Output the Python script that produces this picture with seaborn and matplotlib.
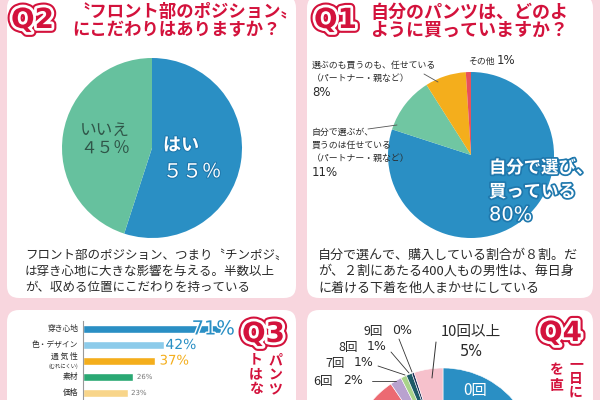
import matplotlib
matplotlib.use('Agg')
import matplotlib.pyplot as plt
import matplotlib.patheffects as pe
from matplotlib.patches import FancyBboxPatch
import seaborn as sns
import pandas as pd

# ---------------- data ----------------
q2_labels = ['はい', 'いいえ']
q2_values = [55, 45]

q1_labels = ['自分で選び、買っている', '自分で選ぶが、買うのは任せている',
             '選ぶのも買うのも、任せている', 'その他']
q1_values = [80, 11, 8, 1]

q3_categories = ['穿き心地', '色・デザイン', '通気性', '素材', '価格']
q3_values = [71, 42, 37, 26, 23]

q4_labels = ['0回', '1回', '2回', '3回', '4回', '5回', '6回', '7回', '8回', '9回', '10回以上']
q4_values = [31, 24, 16, 9, 5, 5, 2, 1, 1, 0.4, 5]

# ---------------- style ----------------
PINK = '#f8d6de'
RED = '#d3123c'
BLUE = '#2a8fc4'
GREEN = '#66c19e'
ORANGE = '#f4ae1c'
CORAL = '#e8505b'
TXT = '#2a2a2a'

q2_colors = [BLUE, GREEN]
q1_colors = [BLUE, '#70c6a2', ORANGE, CORAL]
q3_colors = [BLUE, '#8ccbea', ORANGE, '#2aa873', '#f8d58a']
q4_colors = [BLUE, '#6cc4a0', '#f4ae1c', '#f8d58a', '#8ccbea', '#ec6a72',
             '#b9a2cf', '#a9d38a', '#1d5a66', '#1c2f57', '#f6c1cc']

sns.set_theme(style='white')
plt.rcParams['font.family'] = ['Noto Sans CJK JP', 'DejaVu Sans']

W, H = 600, 400
fig = plt.figure(figsize=(6, 4), dpi=100)
fig.patch.set_facecolor(PINK)

bg = fig.add_axes([0, 0, 1, 1], zorder=0)
bg.set_xlim(0, W); bg.set_ylim(H, 0); bg.axis('off')


def panel(x0, y0, x1, y1):
    bg.add_patch(FancyBboxPatch((x0, y0), x1 - x0, y1 - y0,
                                boxstyle='round,pad=0,rounding_size=12',
                                fc='white', ec='none'))


panel(7, -4, 296, 298)
panel(307, -4, 593, 298)
panel(7, 310, 296, 420)
panel(307, 310, 593, 420)


def pie_axes(cx, cy, r):
    ax = fig.add_axes([(cx - r) / W, (H - cy - r) / H, 2 * r / W, 2 * r / H], zorder=2)
    return ax


def finish_pie(ax):
    ax.set_xlim(-1, 1); ax.set_ylim(-1, 1); ax.axis('off')


# Q2 pie
a2 = pie_axes(152, 148, 90)
a2.pie(q2_values, colors=q2_colors, startangle=90, counterclock=False,
       wedgeprops=dict(linewidth=0))
finish_pie(a2)

# Q1 pie
a1 = pie_axes(471, 155, 83)
a1.pie(q1_values, colors=q1_colors, startangle=90, counterclock=False,
       wedgeprops=dict(linewidth=0))
finish_pie(a1)

# Q4 pie
a4 = pie_axes(443, 461, 93)
a4.pie(q4_values, colors=q4_colors, startangle=90, counterclock=False,
       wedgeprops=dict(linewidth=0.4, edgecolor='white'))
finish_pie(a4)

# Q3 bars
df3 = pd.DataFrame({'item': q3_categories, 'pct': q3_values})
axb = fig.add_axes([83 / W, 0, 194 / W, 79 / H], zorder=2)
sns.barplot(data=df3, x='pct', y='item', hue='item', palette=q3_colors,
            legend=False, width=0.56, saturation=1, ax=axb)
axb.set_xlim(0, 100)
axb.set_ylim(4.4375, -0.5)
axb.set_facecolor('none')
for s in ['top', 'right', 'bottom']:
    axb.spines[s].set_visible(False)
axb.spines['left'].set_color('#9a9a9a')
axb.spines['left'].set_linewidth(0.8)
axb.set_xticks([]); axb.set_yticks([])
axb.set_xlabel(''); axb.set_ylabel('')

# overlay for texts
ov = fig.add_axes([0, 0, 1, 1], zorder=5)
ov.set_xlim(0, W); ov.set_ylim(H, 0); ov.axis('off')
ov.patch.set_alpha(0)


def T(x, y, s, size=9, color=TXT, ha='left', va='center', **kw):
    return ov.text(x, y, s, fontsize=size, color=color, ha=ha, va=va, **kw)


def badge(x, y, s, size=20):
    T(x, y, s, size=size, color=RED, fontweight='bold', family='DejaVu Sans',
      path_effects=[pe.Stroke(linewidth=7, foreground=RED),
                    pe.Stroke(linewidth=4, foreground='white'), pe.Normal()])


# ---- Q2 panel ----
badge(11, 20, 'Q2')
T(72, 12, '〝フロント部のポジション〟', size=12.5, color=RED, fontweight='bold')
T(72, 30, 'にこだわりはありますか？', size=12.5, color=RED, fontweight='bold')
T(80, 130, 'いいえ', size=12, color='#2f5548')
T(80, 149, '４５％', size=12, color='#2f5548')
wp = [pe.Stroke(linewidth=1.5, foreground='#1f78ad'), pe.Normal()]
T(163, 145, 'はい', size=13, color='white', fontweight='bold', path_effects=wp)
T(163, 172, '５５％', size=14, color='white', path_effects=wp)
for i, line in enumerate(['フロント部のポジション、つまり〝チンポジ〟',
                          'は穿き心地に大きな影響を与える。半数以上',
                          'が、収める位置にこだわりを持っている']):
    T(25, 255 + 16.5 * i, line, size=9)

# ---- Q1 panel ----
badge(314, 20, 'Q1')
T(370, 12, '自分のパンツは、どのよ', size=13, color=RED, fontweight='bold')
T(370, 30, 'ように買っていますか？', size=13, color=RED, fontweight='bold')
T(312, 65, '選ぶのも買うのも、任せている', size=6.4)
T(312, 78, '（パートナー・親など）', size=6.4)
T(312, 92, '8%', size=8.5, family='DejaVu Sans')
T(468, 61, 'その他', size=6.4)
T(497, 61, '1%', size=8.5, family='DejaVu Sans')
T(312, 132, '自分で選ぶが、', size=6.4)
T(312, 145, '買うのは任せている', size=6.4)
T(312, 158, '（パートナー・親など）', size=6.4)
T(312, 172, '11%', size=8.5, family='DejaVu Sans')
ov.plot([424, 438], [74, 82], color='#555', lw=0.6)
ov.plot([368, 397], [129, 125], color='#555', lw=0.6)
bp = [pe.Stroke(linewidth=2.5, foreground='#1f78ad'), pe.Normal()]
T(489, 168, '自分で選び、', size=12.5, color='white', fontweight='bold', path_effects=bp)
T(489, 192, '買っている', size=12.5, color='white', fontweight='bold', path_effects=bp)
T(489, 215, '80%', size=14, color='white', family='DejaVu Sans', path_effects=bp)
for i, line in enumerate(['自分で選んで、購入している割合が８割。だ',
                          'が、２割にあたる400人もの男性は、毎日身',
                          'に着ける下着を他人まかせにしている']):
    T(318, 255 + 16.5 * i, line, size=9.4)

# ---- Q3 panel ----
lab_kw = dict(fontsize=5.6, color=TXT, ha='right', va='center')
for i, c in enumerate(q3_categories):
    if c == '通気性':
        axb.text(-2.5, i - 0.25, '通 気 性', **lab_kw)
        axb.text(-2.5, i + 0.35, '(むれにくい)', fontsize=3.8, color=TXT, ha='right', va='center')
    else:
        axb.text(-2.5, i, c, **lab_kw)
val_style = [
    dict(dx=-15, size=14, color=BLUE),
    dict(dx=0.5, size=10, color=BLUE),
    dict(dx=2.5, size=9.5, color=ORANGE),
    dict(dx=1.8, size=5, color='#777777'),
    dict(dx=1.8, size=5, color='#777777'),
]
for i, (v, st) in enumerate(zip(q3_values, val_style)):
    axb.text(v + st['dx'], i, f'{v}%', fontsize=st['size'], color=st['color'],
             ha='left', va='center', family='DejaVu Sans', clip_on=False,
             path_effects=[pe.Stroke(linewidth=2, foreground='white'), pe.Normal()])
badge(242, 334, 'Q3')
for i, ch in enumerate('パンツ'):
    T(275, 360 + 15 * i, ch, size=10, color=RED, fontweight='bold', ha='center')
for i, ch in enumerate('トはな'):
    T(256, 359 + 15 * i, ch, size=10, color=RED, fontweight='bold', ha='center')

# ---- Q4 panel ----
badge(539, 333, 'Q4')
for i, ch in enumerate('一日に'):
    T(576, 364 + 14.5 * i, ch, size=10, color=RED, fontweight='bold', ha='center')
for i, ch in enumerate('を直'):
    T(556, 370 + 16 * i, ch, size=10, color=RED, fontweight='bold', ha='center')
T(471, 332, '10回以上', size=10.5, ha='center')
T(471, 352, '5%', size=10.5, ha='center', family='DejaVu Sans')
T(363, 331, '9回', size=9)
T(392, 331, '0%', size=9, family='DejaVu Sans')
T(338, 347, '8回', size=9)
T(367, 347, '1%', size=9, family='DejaVu Sans')
T(325, 363, '7回', size=9)
T(354, 363, '1%', size=9, family='DejaVu Sans')
T(313, 381, '6回', size=9)
T(343, 381, '2%', size=9, family='DejaVu Sans')
ov.plot([436, 432], [342, 378], color='#333', lw=0.7)
ov.plot([399, 412], [339, 372], color='#333', lw=0.6)
ov.plot([391, 409], [352, 373], color='#333', lw=0.6)
ov.plot([378, 405], [366, 375], color='#333', lw=0.6)
ov.plot([372, 396], [381, 381], color='#333', lw=0.6)
T(475, 391, '0回', size=11, color='white', ha='center')

fig.savefig('out.png', dpi=100, facecolor=PINK)
